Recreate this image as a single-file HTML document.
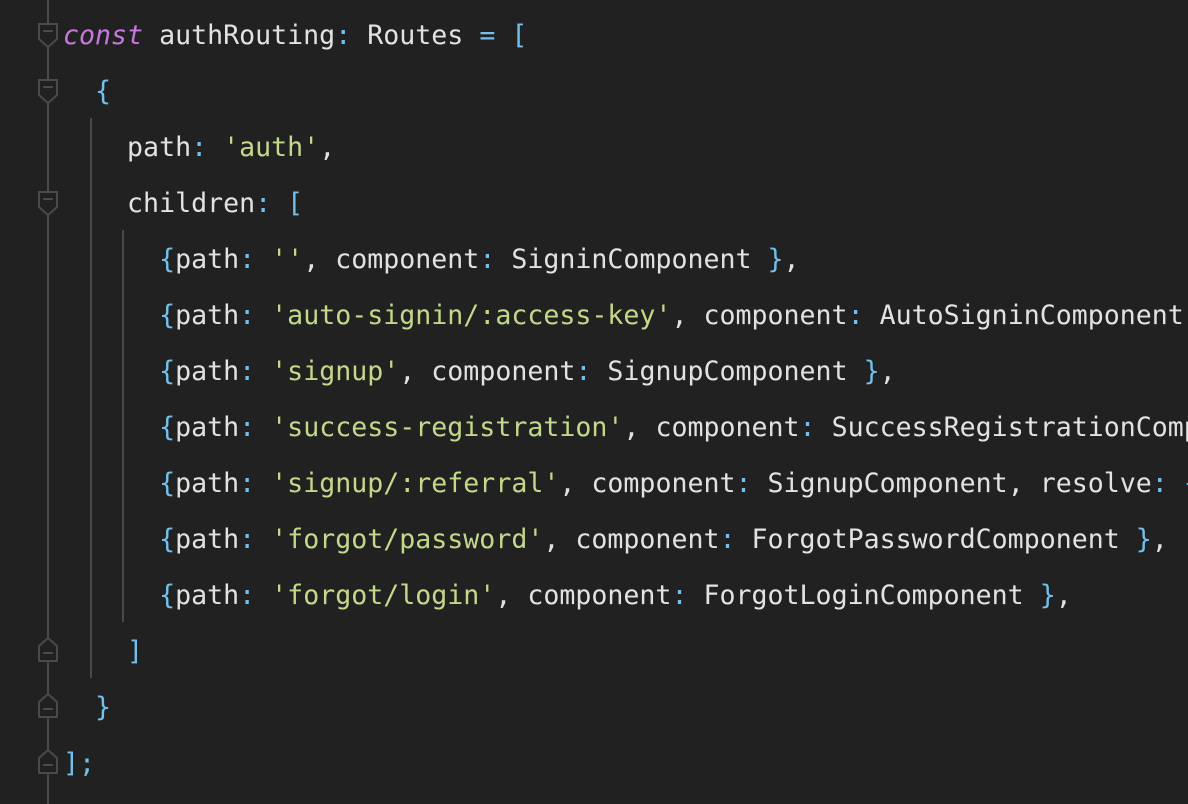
<!DOCTYPE html>
<html><head><meta charset="utf-8"><style>
html,body{margin:0;padding:0;background:#212121;width:1188px;height:804px;overflow:hidden}
.l{position:absolute;left:63px;height:56px;line-height:56px;white-space:pre;font-family:"DejaVu Sans Mono","Liberation Mono",monospace;font-size:26.6px;color:#e2e2e2}
.k{color:#c678dd;font-style:italic}.b{color:#72c0ec}.s{color:#c3d98a}
svg{position:absolute;left:0;top:0}
</style></head><body>
<svg width="1188" height="804">
<g stroke="#4a4a4a" stroke-width="2" fill="#212121">
<line x1="48" y1="0" x2="48" y2="804"/>
<line x1="91" y1="118" x2="91" y2="678"/>
<line x1="123" y1="230" x2="123" y2="622"/>
<path d="M39 24h18v15l-9 8l-9-8z"/><path d="M39 80h18v15l-9 8l-9-8z"/><path d="M39 192h18v15l-9 8l-9-8z"/>
<path d="M39 661h18v-15l-9-8l-9 8z"/><path d="M39 717h18v-15l-9-8l-9 8z"/><path d="M39 773h18v-15l-9-8l-9 8z"/>
<path d="M43 31h10M43 87h10M43 199h10M43 653h10M43 709h10M43 765h10"/>
</g></svg>
<div class="l" style="top:8px"><span class="k">const</span> authRouting<span class="b">:</span> Routes <span class="b">= [</span></div>
<div class="l" style="top:64px">  <span class="b">{</span></div>
<div class="l" style="top:120px">    path<span class="b">:</span> <span class="s">'auth'</span>,</div>
<div class="l" style="top:176px">    children<span class="b">: [</span></div>
<div class="l" style="top:232px">      <span class="b">{</span>path<span class="b">:</span> <span class="s">''</span>, component<span class="b">:</span> SigninComponent <span class="b">}</span>,</div>
<div class="l" style="top:288px">      <span class="b">{</span>path<span class="b">:</span> <span class="s">'auto-signin/:access-key'</span>, component<span class="b">:</span> AutoSigninComponent,</div>
<div class="l" style="top:344px">      <span class="b">{</span>path<span class="b">:</span> <span class="s">'signup'</span>, component<span class="b">:</span> SignupComponent <span class="b">}</span>,</div>
<div class="l" style="top:400px">      <span class="b">{</span>path<span class="b">:</span> <span class="s">'success-registration'</span>, component<span class="b">:</span> SuccessRegistrationComp</div>
<div class="l" style="top:456px">      <span class="b">{</span>path<span class="b">:</span> <span class="s">'signup/:referral'</span>, component<span class="b">:</span> SignupComponent, resolve<span class="b">: {</span></div>
<div class="l" style="top:512px">      <span class="b">{</span>path<span class="b">:</span> <span class="s">'forgot/password'</span>, component<span class="b">:</span> ForgotPasswordComponent <span class="b">}</span>,</div>
<div class="l" style="top:568px">      <span class="b">{</span>path<span class="b">:</span> <span class="s">'forgot/login'</span>, component<span class="b">:</span> ForgotLoginComponent <span class="b">}</span>,</div>
<div class="l" style="top:624px">    <span class="b">]</span></div>
<div class="l" style="top:680px">  <span class="b">}</span></div>
<div class="l" style="top:736px"><span class="b">];</span></div>
</body></html>
